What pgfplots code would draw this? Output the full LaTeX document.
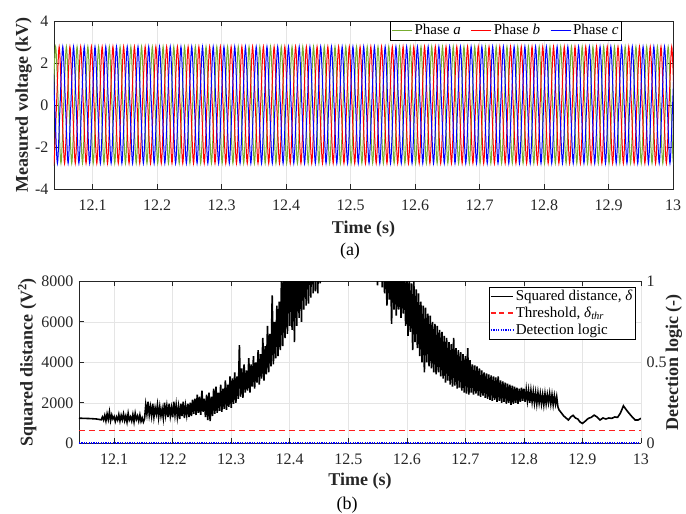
\documentclass[border=0pt]{standalone}
\usepackage{fontspec}
\setmainfont{Liberation Serif}
\usepackage{pgfplots}
\pgfplotsset{compat=1.18}
\definecolor{phA}{RGB}{119,172,48}
\definecolor{axgray}{RGB}{38,38,38}
\definecolor{thrred}{RGB}{255,30,30}
\pgfplotsset{
  myax/.style={
    scale only axis,
    tick align=inside,
    major tick length=5pt,
    tick style={color=axgray, line width=0.6pt},
    axis line style={color=axgray, line width=0.6pt},
    tick label style={font=\fontsize{16}{19}\selectfont, color=axgray},
    xticklabel style={yshift=-5pt},
    label style={font=\bfseries\fontsize{18}{21}\selectfont, color=axgray},
    /pgf/number format/assume math mode=true,
    /pgf/number format/1000 sep={},
    scaled ticks=false,
    grid=major,
    grid style={color=black!10, line width=0.5pt},
    legend style={font=\fontsize{15}{18}\selectfont, fill=white, inner sep=1pt, nodes={inner sep=2pt}},
    legend cell align=left,
    xtick={12.1,12.2,12.3,12.4,12.5,12.6,12.7,12.8,12.9,13},
    xmin=12.04, xmax=13,
  }
}
\begin{document}
\fontsize{16}{19}\selectfont
\begin{tikzpicture}
\useasboundingbox (0pt,0pt) rectangle (686pt,514pt);
% ---------------- top axis ----------------
\begin{axis}[myax,
  at={(54pt,325pt)}, anchor=south west,
  width=619pt, height=168pt,
  ymin=-4, ymax=4, ytick={-4,-2,0,2,4},
  xlabel={Time (s)}, ylabel={Measured voltage (kV)},
  xlabel style={at={(axis description cs:0.5,-0.238)}, anchor=center},
  ylabel style={at={(axis description cs:-0.049,0.5)}, anchor=center},
  legend columns=3,
  legend image code/.code={\draw[#1] (0pt,0pt) -- (20pt,0pt);},
  legend style={at={(axis description cs:0.917,0.998)}, anchor=north east,
    /tikz/every even column/.append style={column sep=8pt}},
]
\addplot[phA, line width=1pt, smooth] coordinates {
(12.0383,0)
(12.0425,2.78)(12.0467,0)(12.0508,-2.78)(12.0550,0)(12.0592,2.78)(12.0633,0)(12.0675,-2.78)(12.0717,0)(12.0758,2.78)(12.0800,0)(12.0842,-2.78)(12.0883,0)(12.0925,2.78)(12.0967,0)(12.1008,-2.78)(12.1050,0)(12.1092,2.78)(12.1133,0)(12.1175,-2.78)(12.1217,0)(12.1258,2.78)(12.1300,0)(12.1342,-2.78)(12.1383,0)
(12.1425,2.78)(12.1467,0)(12.1508,-2.78)(12.1550,0)(12.1592,2.78)(12.1633,0)(12.1675,-2.78)(12.1717,0)(12.1758,2.78)(12.1800,0)(12.1842,-2.78)(12.1883,0)(12.1925,2.78)(12.1967,0)(12.2008,-2.78)(12.2050,0)(12.2092,2.78)(12.2133,0)(12.2175,-2.78)(12.2217,0)(12.2258,2.78)(12.2300,0)(12.2342,-2.78)(12.2383,0)
(12.2425,2.78)(12.2467,0)(12.2508,-2.78)(12.2550,0)(12.2592,2.78)(12.2633,0)(12.2675,-2.78)(12.2717,0)(12.2758,2.78)(12.2800,0)(12.2842,-2.78)(12.2883,0)(12.2925,2.78)(12.2967,0)(12.3008,-2.78)(12.3050,0)(12.3092,2.78)(12.3133,0)(12.3175,-2.78)(12.3217,0)(12.3258,2.78)(12.3300,0)(12.3342,-2.78)(12.3383,0)
(12.3425,2.78)(12.3467,0)(12.3508,-2.78)(12.3550,0)(12.3592,2.78)(12.3633,0)(12.3675,-2.78)(12.3717,0)(12.3758,2.78)(12.3800,0)(12.3842,-2.78)(12.3883,0)(12.3925,2.78)(12.3967,0)(12.4008,-2.78)(12.4050,0)(12.4092,2.78)(12.4133,0)(12.4175,-2.78)(12.4217,0)(12.4258,2.78)(12.4300,0)(12.4342,-2.78)(12.4383,0)
(12.4425,2.78)(12.4467,0)(12.4508,-2.78)(12.4550,0)(12.4592,2.78)(12.4633,0)(12.4675,-2.78)(12.4717,0)(12.4758,2.78)(12.4800,0)(12.4842,-2.78)(12.4883,0)(12.4925,2.78)(12.4967,0)(12.5008,-2.78)(12.5050,0)(12.5092,2.78)(12.5133,0)(12.5175,-2.78)(12.5217,0)(12.5258,2.78)(12.5300,0)(12.5342,-2.78)(12.5383,0)
(12.5425,2.78)(12.5467,0)(12.5508,-2.78)(12.5550,0)(12.5592,2.78)(12.5633,0)(12.5675,-2.78)(12.5717,0)(12.5758,2.78)(12.5800,0)(12.5842,-2.78)(12.5883,0)(12.5925,2.78)(12.5967,0)(12.6008,-2.78)(12.6050,0)(12.6092,2.78)(12.6133,0)(12.6175,-2.78)(12.6217,0)(12.6258,2.78)(12.6300,0)(12.6342,-2.78)(12.6383,0)
(12.6425,2.78)(12.6467,0)(12.6508,-2.78)(12.6550,0)(12.6592,2.78)(12.6633,0)(12.6675,-2.78)(12.6717,0)(12.6758,2.78)(12.6800,0)(12.6842,-2.78)(12.6883,0)(12.6925,2.78)(12.6967,0)(12.7008,-2.78)(12.7050,0)(12.7092,2.78)(12.7133,0)(12.7175,-2.78)(12.7217,0)(12.7258,2.78)(12.7300,0)(12.7342,-2.78)(12.7383,0)
(12.7425,2.78)(12.7467,0)(12.7508,-2.78)(12.7550,0)(12.7592,2.78)(12.7633,0)(12.7675,-2.78)(12.7717,0)(12.7758,2.78)(12.7800,0)(12.7842,-2.78)(12.7883,0)(12.7925,2.78)(12.7967,0)(12.8008,-2.78)(12.8050,0)(12.8092,2.78)(12.8133,0)(12.8175,-2.78)(12.8217,0)(12.8258,2.78)(12.8300,0)(12.8342,-2.78)(12.8383,0)
(12.8425,2.78)(12.8467,0)(12.8508,-2.78)(12.8550,0)(12.8592,2.78)(12.8633,0)(12.8675,-2.78)(12.8717,0)(12.8758,2.78)(12.8800,0)(12.8842,-2.78)(12.8883,0)(12.8925,2.78)(12.8967,0)(12.9008,-2.78)(12.9050,0)(12.9092,2.78)(12.9133,0)(12.9175,-2.78)(12.9217,0)(12.9258,2.78)(12.9300,0)(12.9342,-2.78)(12.9383,0)
(12.9425,2.78)(12.9467,0)(12.9508,-2.78)(12.9550,0)(12.9592,2.78)(12.9633,0)(12.9675,-2.78)(12.9717,0)(12.9758,2.78)(12.9800,0)(12.9842,-2.78)(12.9883,0)(12.9925,2.78)(12.9967,0)(13.0008,-2.78)(13.0050,0)(13.0092,2.78)(13.0133,0)(13.0175,-2.78)(13.0217,0)(13.0258,2.78)(13.0300,0)(13.0342,-2.78)(13.0383,0)
};
\addlegendentry{Phase \textit{a}}
\addplot[red, line width=1pt, smooth] coordinates {
(12.0355,0)
(12.0397,-2.78)(12.0439,0)(12.0480,2.78)(12.0522,0)(12.0564,-2.78)(12.0605,0)(12.0647,2.78)(12.0689,0)(12.0730,-2.78)(12.0772,0)(12.0814,2.78)(12.0855,0)(12.0897,-2.78)(12.0939,0)(12.0980,2.78)(12.1022,0)(12.1064,-2.78)(12.1105,0)(12.1147,2.78)(12.1189,0)(12.1230,-2.78)(12.1272,0)(12.1314,2.78)(12.1355,0)
(12.1397,-2.78)(12.1439,0)(12.1480,2.78)(12.1522,0)(12.1564,-2.78)(12.1605,0)(12.1647,2.78)(12.1689,0)(12.1730,-2.78)(12.1772,0)(12.1814,2.78)(12.1855,0)(12.1897,-2.78)(12.1939,0)(12.1980,2.78)(12.2022,0)(12.2064,-2.78)(12.2105,0)(12.2147,2.78)(12.2189,0)(12.2230,-2.78)(12.2272,0)(12.2314,2.78)(12.2355,0)
(12.2397,-2.78)(12.2439,0)(12.2480,2.78)(12.2522,0)(12.2564,-2.78)(12.2605,0)(12.2647,2.78)(12.2689,0)(12.2730,-2.78)(12.2772,0)(12.2814,2.78)(12.2855,0)(12.2897,-2.78)(12.2939,0)(12.2980,2.78)(12.3022,0)(12.3064,-2.78)(12.3105,0)(12.3147,2.78)(12.3189,0)(12.3230,-2.78)(12.3272,0)(12.3314,2.78)(12.3355,0)
(12.3397,-2.78)(12.3439,0)(12.3480,2.78)(12.3522,0)(12.3564,-2.78)(12.3605,0)(12.3647,2.78)(12.3689,0)(12.3730,-2.78)(12.3772,0)(12.3814,2.78)(12.3855,0)(12.3897,-2.78)(12.3939,0)(12.3980,2.78)(12.4022,0)(12.4064,-2.78)(12.4105,0)(12.4147,2.78)(12.4189,0)(12.4230,-2.78)(12.4272,0)(12.4314,2.78)(12.4355,0)
(12.4397,-2.78)(12.4439,0)(12.4480,2.78)(12.4522,0)(12.4564,-2.78)(12.4605,0)(12.4647,2.78)(12.4689,0)(12.4730,-2.78)(12.4772,0)(12.4814,2.78)(12.4855,0)(12.4897,-2.78)(12.4939,0)(12.4980,2.78)(12.5022,0)(12.5064,-2.78)(12.5105,0)(12.5147,2.78)(12.5189,0)(12.5230,-2.78)(12.5272,0)(12.5314,2.78)(12.5355,0)
(12.5397,-2.78)(12.5439,0)(12.5480,2.78)(12.5522,0)(12.5564,-2.78)(12.5605,0)(12.5647,2.78)(12.5689,0)(12.5730,-2.78)(12.5772,0)(12.5814,2.78)(12.5855,0)(12.5897,-2.78)(12.5939,0)(12.5980,2.78)(12.6022,0)(12.6064,-2.78)(12.6105,0)(12.6147,2.78)(12.6189,0)(12.6230,-2.78)(12.6272,0)(12.6314,2.78)(12.6355,0)
(12.6397,-2.78)(12.6439,0)(12.6480,2.78)(12.6522,0)(12.6564,-2.78)(12.6605,0)(12.6647,2.78)(12.6689,0)(12.6730,-2.78)(12.6772,0)(12.6814,2.78)(12.6855,0)(12.6897,-2.78)(12.6939,0)(12.6980,2.78)(12.7022,0)(12.7064,-2.78)(12.7105,0)(12.7147,2.78)(12.7189,0)(12.7230,-2.78)(12.7272,0)(12.7314,2.78)(12.7355,0)
(12.7397,-2.78)(12.7439,0)(12.7480,2.78)(12.7522,0)(12.7564,-2.78)(12.7605,0)(12.7647,2.78)(12.7689,0)(12.7730,-2.78)(12.7772,0)(12.7814,2.78)(12.7855,0)(12.7897,-2.78)(12.7939,0)(12.7980,2.78)(12.8022,0)(12.8064,-2.78)(12.8105,0)(12.8147,2.78)(12.8189,0)(12.8230,-2.78)(12.8272,0)(12.8314,2.78)(12.8355,0)
(12.8397,-2.78)(12.8439,0)(12.8480,2.78)(12.8522,0)(12.8564,-2.78)(12.8605,0)(12.8647,2.78)(12.8689,0)(12.8730,-2.78)(12.8772,0)(12.8814,2.78)(12.8855,0)(12.8897,-2.78)(12.8939,0)(12.8980,2.78)(12.9022,0)(12.9064,-2.78)(12.9105,0)(12.9147,2.78)(12.9189,0)(12.9230,-2.78)(12.9272,0)(12.9314,2.78)(12.9355,0)
(12.9397,-2.78)(12.9439,0)(12.9480,2.78)(12.9522,0)(12.9564,-2.78)(12.9605,0)(12.9647,2.78)(12.9689,0)(12.9730,-2.78)(12.9772,0)(12.9814,2.78)(12.9855,0)(12.9897,-2.78)(12.9939,0)(12.9980,2.78)(13.0022,0)(13.0064,-2.78)(13.0105,0)(13.0147,2.78)(13.0189,0)(13.0230,-2.78)(13.0272,0)(13.0314,2.78)(13.0355,0)
};
\addlegendentry{Phase \textit{b}}
\addplot[blue, line width=1pt, smooth] coordinates {
(12.0369,2.78)
(12.0411,0)(12.0453,-2.78)(12.0494,0)(12.0536,2.78)(12.0578,0)(12.0619,-2.78)(12.0661,0)(12.0703,2.78)(12.0744,0)(12.0786,-2.78)(12.0828,0)(12.0869,2.78)(12.0911,0)(12.0953,-2.78)(12.0994,0)(12.1036,2.78)(12.1078,0)(12.1119,-2.78)(12.1161,0)(12.1203,2.78)(12.1244,0)(12.1286,-2.78)(12.1328,0)(12.1369,2.78)
(12.1411,0)(12.1453,-2.78)(12.1494,0)(12.1536,2.78)(12.1578,0)(12.1619,-2.78)(12.1661,0)(12.1703,2.78)(12.1744,0)(12.1786,-2.78)(12.1828,0)(12.1869,2.78)(12.1911,0)(12.1953,-2.78)(12.1994,0)(12.2036,2.78)(12.2078,0)(12.2119,-2.78)(12.2161,0)(12.2203,2.78)(12.2244,0)(12.2286,-2.78)(12.2328,0)(12.2369,2.78)
(12.2411,0)(12.2453,-2.78)(12.2494,0)(12.2536,2.78)(12.2578,0)(12.2619,-2.78)(12.2661,0)(12.2703,2.78)(12.2744,0)(12.2786,-2.78)(12.2828,0)(12.2869,2.78)(12.2911,0)(12.2953,-2.78)(12.2994,0)(12.3036,2.78)(12.3078,0)(12.3119,-2.78)(12.3161,0)(12.3203,2.78)(12.3244,0)(12.3286,-2.78)(12.3328,0)(12.3369,2.78)
(12.3411,0)(12.3453,-2.78)(12.3494,0)(12.3536,2.78)(12.3578,0)(12.3619,-2.78)(12.3661,0)(12.3703,2.78)(12.3744,0)(12.3786,-2.78)(12.3828,0)(12.3869,2.78)(12.3911,0)(12.3953,-2.78)(12.3994,0)(12.4036,2.78)(12.4078,0)(12.4119,-2.78)(12.4161,0)(12.4203,2.78)(12.4244,0)(12.4286,-2.78)(12.4328,0)(12.4369,2.78)
(12.4411,0)(12.4453,-2.78)(12.4494,0)(12.4536,2.78)(12.4578,0)(12.4619,-2.78)(12.4661,0)(12.4703,2.78)(12.4744,0)(12.4786,-2.78)(12.4828,0)(12.4869,2.78)(12.4911,0)(12.4953,-2.78)(12.4994,0)(12.5036,2.78)(12.5078,0)(12.5119,-2.78)(12.5161,0)(12.5203,2.78)(12.5244,0)(12.5286,-2.78)(12.5328,0)(12.5369,2.78)
(12.5411,0)(12.5453,-2.78)(12.5494,0)(12.5536,2.78)(12.5578,0)(12.5619,-2.78)(12.5661,0)(12.5703,2.78)(12.5744,0)(12.5786,-2.78)(12.5828,0)(12.5869,2.78)(12.5911,0)(12.5953,-2.78)(12.5994,0)(12.6036,2.78)(12.6078,0)(12.6119,-2.78)(12.6161,0)(12.6203,2.78)(12.6244,0)(12.6286,-2.78)(12.6328,0)(12.6369,2.78)
(12.6411,0)(12.6453,-2.78)(12.6494,0)(12.6536,2.78)(12.6578,0)(12.6619,-2.78)(12.6661,0)(12.6703,2.78)(12.6744,0)(12.6786,-2.78)(12.6828,0)(12.6869,2.78)(12.6911,0)(12.6953,-2.78)(12.6994,0)(12.7036,2.78)(12.7078,0)(12.7119,-2.78)(12.7161,0)(12.7203,2.78)(12.7244,0)(12.7286,-2.78)(12.7328,0)(12.7369,2.78)
(12.7411,0)(12.7453,-2.78)(12.7494,0)(12.7536,2.78)(12.7578,0)(12.7619,-2.78)(12.7661,0)(12.7703,2.78)(12.7744,0)(12.7786,-2.78)(12.7828,0)(12.7869,2.78)(12.7911,0)(12.7953,-2.78)(12.7994,0)(12.8036,2.78)(12.8078,0)(12.8119,-2.78)(12.8161,0)(12.8203,2.78)(12.8244,0)(12.8286,-2.78)(12.8328,0)(12.8369,2.78)
(12.8411,0)(12.8453,-2.78)(12.8494,0)(12.8536,2.78)(12.8578,0)(12.8619,-2.78)(12.8661,0)(12.8703,2.78)(12.8744,0)(12.8786,-2.78)(12.8828,0)(12.8869,2.78)(12.8911,0)(12.8953,-2.78)(12.8994,0)(12.9036,2.78)(12.9078,0)(12.9119,-2.78)(12.9161,0)(12.9203,2.78)(12.9244,0)(12.9286,-2.78)(12.9328,0)(12.9369,2.78)
(12.9411,0)(12.9453,-2.78)(12.9494,0)(12.9536,2.78)(12.9578,0)(12.9619,-2.78)(12.9661,0)(12.9703,2.78)(12.9744,0)(12.9786,-2.78)(12.9828,0)(12.9869,2.78)(12.9911,0)(12.9953,-2.78)(12.9994,0)(13.0036,2.78)(13.0078,0)(13.0119,-2.78)(13.0161,0)(13.0203,2.78)(13.0244,0)(13.0286,-2.78)(13.0328,0)(13.0369,2.78)
};
\addlegendentry{Phase \textit{c}}
\end{axis}
% ---------------- bottom axis (right scale) ----------------
\begin{axis}[myax,
  at={(79pt,70.7pt)}, anchor=south west,
  width=562pt, height=162pt,
  ymin=0, ymax=1, ytick={0,0.5,1},
  axis y line*=right, axis x line=none, grid=none,
  ylabel={Detection logic (-)},
  ylabel style={at={(axis description cs:1.0587,0.5)}, anchor=center},
]
\end{axis}
% ---------------- bottom axis (left scale) ----------------
\begin{axis}[myax,
  at={(79pt,70.7pt)}, anchor=south west,
  width=562pt, height=162pt,
  ymin=0, ymax=8000, ytick={0,2000,4000,6000,8000},
  axis y line*=left,
  xlabel={Time (s)}, ylabel={Squared distance (V\textsuperscript{2})},
  xlabel style={at={(axis description cs:0.5,-0.236)}, anchor=center},
  ylabel style={at={(axis description cs:-0.092,0.5)}, anchor=center},
  legend style={at={(axis description cs:0.9906,0.9667)}, anchor=north east},
]
\addplot[black, line width=1.6pt,
  legend image code/.code={\draw[black, line width=1.2pt] (0pt,0pt) -- (22pt,0pt);}] coordinates {
(12.04,1240)(12.05,1230)(12.06,1220)(12.07,1200)(12.078,1160)
(12.080,1300)(12.082,1150)(12.084,1380)(12.086,1100)(12.088,1450)(12.090,1180)(12.092,1550)(12.094,1120)(12.096,1400)(12.098,1200)(12.100,1320)(12.102,1080)(12.104,1300)(12.106,1150)(12.108,1420)(12.110,1100)(12.112,1380)(12.114,1160)(12.116,1450)(12.118,1120)(12.120,1350)(12.122,1050)(12.124,1480)(12.126,1150)(12.128,1300)(12.130,1100)(12.132,1420)(12.134,1060)(12.136,1480)(12.138,1180)(12.140,1350)(12.142,1100)(12.144,1400)(12.146,1080)(12.148,1250)(12.150,1050)(12.152,1200)
(12.154,1900)(12.156,1450)(12.158,2050)(12.160,1400)(12.162,1800)(12.164,1350)(12.166,1950)(12.168,1300)(12.170,1750)(12.172,1450)(12.174,1900)(12.176,1280)(12.178,1800)(12.180,1350)(12.182,1700)(12.184,1250)(12.186,2000)(12.188,1400)(12.190,1850)(12.192,1300)(12.194,1950)(12.196,1350)(12.198,1750)(12.200,1280)(12.202,2050)(12.204,1400)(12.206,1900)(12.208,1300)(12.210,1800)(12.212,1200)(12.214,1950)(12.216,1350)(12.218,2050)(12.220,1250)(12.222,1850)(12.224,1400)(12.226,1950)(12.228,1300)(12.230,2000)(12.232,1350)(12.234,2150)(12.236,1450)(12.238,2200)(12.240,1400)
(12.242,2400)(12.244,1500)(12.246,2300)(12.248,1400)(12.250,2600)(12.252,1550)(12.254,2200)(12.256,1300)(12.258,2400)(12.260,1150)(12.262,2500)(12.264,1100)(12.266,2300)(12.268,1350)(12.270,2700)(12.272,1450)(12.274,2800)(12.276,1500)(12.278,2500)(12.280,1600)(12.282,2900)(12.284,1550)(12.286,2700)(12.288,1700)(12.290,3100)(12.292,1650)(12.294,2900)(12.296,1800)(12.298,3300)(12.300,1750)(12.302,3200)(12.304,1950)(12.306,3500)(12.308,2000)(12.310,3300)(12.312,2200)(12.314,4850)(12.316,2300)(12.318,3700)(12.320,2250)(12.322,3900)(12.324,2500)(12.326,3600)(12.328,2600)(12.330,4200)(12.332,2500)(12.334,3900)(12.336,2800)(12.338,4300)(12.340,2700)(12.342,4000)(12.344,3000)(12.346,4600)(12.348,2900)(12.350,4400)(12.352,3200)(12.354,5200)(12.356,3100)(12.358,4800)(12.360,3400)(12.362,5800)(12.364,3500)(12.366,5400)(12.368,3800)(12.370,7300)(12.372,3900)(12.374,6000)(12.376,4200)(12.378,6800)(12.380,4300)
(12.382,7000)(12.384,4600)(12.386,8500)(12.388,4800)(12.390,8200)(12.392,5200)(12.394,9000)(12.396,5400)(12.398,9500)(12.400,5800)(12.402,9800)(12.404,5600)(12.406,10000)(12.408,5000)(12.410,10200)(12.412,5800)(12.414,10500)(12.416,6200)(12.418,10800)(12.420,6000)(12.422,11000)(12.424,6600)(12.426,11200)(12.428,6800)(12.430,11500)(12.432,6900)(12.434,11800)(12.436,7200)(12.438,12000)(12.440,7400)(12.442,12200)(12.444,7500)(12.446,12500)(12.448,7400)(12.450,12800)(12.452,7900)(12.454,13000)(12.456,8600)
(12.47,14000)(12.50,16000)(12.53,14000)
(12.548,9500)(12.550,7800)(12.552,10000)(12.554,8200)(12.556,9800)(12.558,7700)(12.560,10200)(12.562,7400)(12.564,9600)(12.566,6800)(12.568,9400)(12.570,7100)(12.572,9200)(12.574,5900)(12.576,9500)(12.578,6600)(12.580,9000)(12.582,6300)(12.584,8800)(12.586,6600)(12.588,9100)(12.590,6200)(12.592,8600)(12.594,6400)(12.596,8400)(12.598,5800)(12.600,8600)(12.602,5300)(12.604,8200)(12.606,5500)(12.608,7900)(12.610,4600)(12.612,8000)(12.614,5000)(12.616,7600)(12.618,4700)(12.620,7400)(12.622,4300)(12.624,7000)(12.626,4000)(12.628,6800)(12.630,3500)(12.632,6700)(12.634,4000)(12.636,6400)(12.638,3800)(12.640,6300)(12.642,3700)(12.644,6000)(12.646,3500)(12.648,5900)(12.650,3400)(12.652,5800)(12.654,3500)(12.656,5600)(12.658,3300)(12.660,5500)(12.662,3200)(12.664,5300)(12.666,3000)(12.668,5200)(12.670,3100)(12.672,5000)(12.674,2900)(12.676,4900)(12.678,2800)(12.680,5200)(12.682,2850)(12.684,4700)(12.686,2700)(12.688,4600)(12.690,2750)(12.692,4500)(12.694,2600)(12.696,4400)(12.698,2500)(12.700,4300)
(12.702,2450)(12.704,4700)(12.706,2400)(12.708,4100)(12.710,2500)(12.712,3900)(12.714,2400)(12.716,3850)(12.718,2450)(12.720,3800)(12.722,2350)(12.724,3700)(12.726,2300)(12.728,3600)(12.730,2350)(12.732,3500)(12.734,2250)(12.736,3450)(12.738,2200)(12.740,3400)(12.742,2150)(12.744,3350)(12.746,2100)(12.748,3300)(12.750,2150)(12.752,3250)(12.754,2050)(12.756,3300)(12.758,2100)(12.760,3100)(12.762,2000)(12.764,3050)(12.766,2050)(12.768,3000)(12.770,1950)(12.772,2950)(12.774,2000)(12.776,2900)(12.778,1900)(12.780,2850)(12.782,1950)(12.784,2800)(12.786,2000)(12.788,2750)(12.790,1950)(12.792,2700)(12.794,2050)(12.796,2750)(12.798,2100)(12.800,2700)(12.802,2050)(12.804,2650)(12.806,2100)(12.808,2600)(12.810,2000)(12.812,2600)(12.814,2050)(12.816,2550)(12.818,2000)(12.820,2500)(12.822,1950)(12.824,2500)(12.826,2000)(12.828,2450)(12.830,1950)(12.832,2400)(12.834,1900)(12.836,2450)(12.838,1950)(12.840,2400)(12.842,2000)(12.844,2450)(12.846,1950)(12.848,2400)(12.850,1900)(12.852,2350)(12.854,1950)(12.856,2300)(12.858,1800)
(12.860,1650)(12.864,1500)(12.868,1350)(12.872,1250)(12.876,1150)(12.880,1300)(12.884,1380)(12.888,1250)(12.892,1200)(12.896,1050)(12.900,980)(12.905,1100)(12.910,1230)(12.915,1280)(12.920,1390)(12.925,1300)(12.930,1150)(12.935,1250)(12.940,1200)(12.945,1250)(12.950,1230)(12.955,1300)(12.960,1280)(12.965,1500)(12.970,1850)(12.975,1650)(12.980,1470)(12.985,1300)(12.990,1150)(12.995,1150)(13.000,1230)
};
\addlegendentry{Squared distance, \textit{δ}}
\addplot[thrred, line width=1.2pt, dash pattern=on 6pt off 4pt,
  legend image code/.code={\draw[thrred, line width=1.6pt, dash pattern=on 5pt off 3.5pt] (0pt,0pt) -- (22pt,0pt);}] coordinates {(12.04,620)(13,620)};
\addlegendentry{Threshold, \textit{δ}\textsubscript{\textit{thr}}}
\addplot[blue, line width=2.4pt, dash pattern=on 1.2pt off 1.2pt,
  legend image code/.code={\draw[blue, line width=1.2pt, dash pattern=on 1.2pt off 1.2pt] (0pt,0pt) -- (22pt,0pt);}] coordinates {(12.04,0)(13,0)};
\addlegendentry{Detection logic}
\end{axis}
\node[font=\fontsize{18}{21}\selectfont] at (350pt,263pt) {(a)};
\node[font=\fontsize{18}{21}\selectfont] at (347pt,9pt) {(b)};
\end{tikzpicture}
\end{document}
